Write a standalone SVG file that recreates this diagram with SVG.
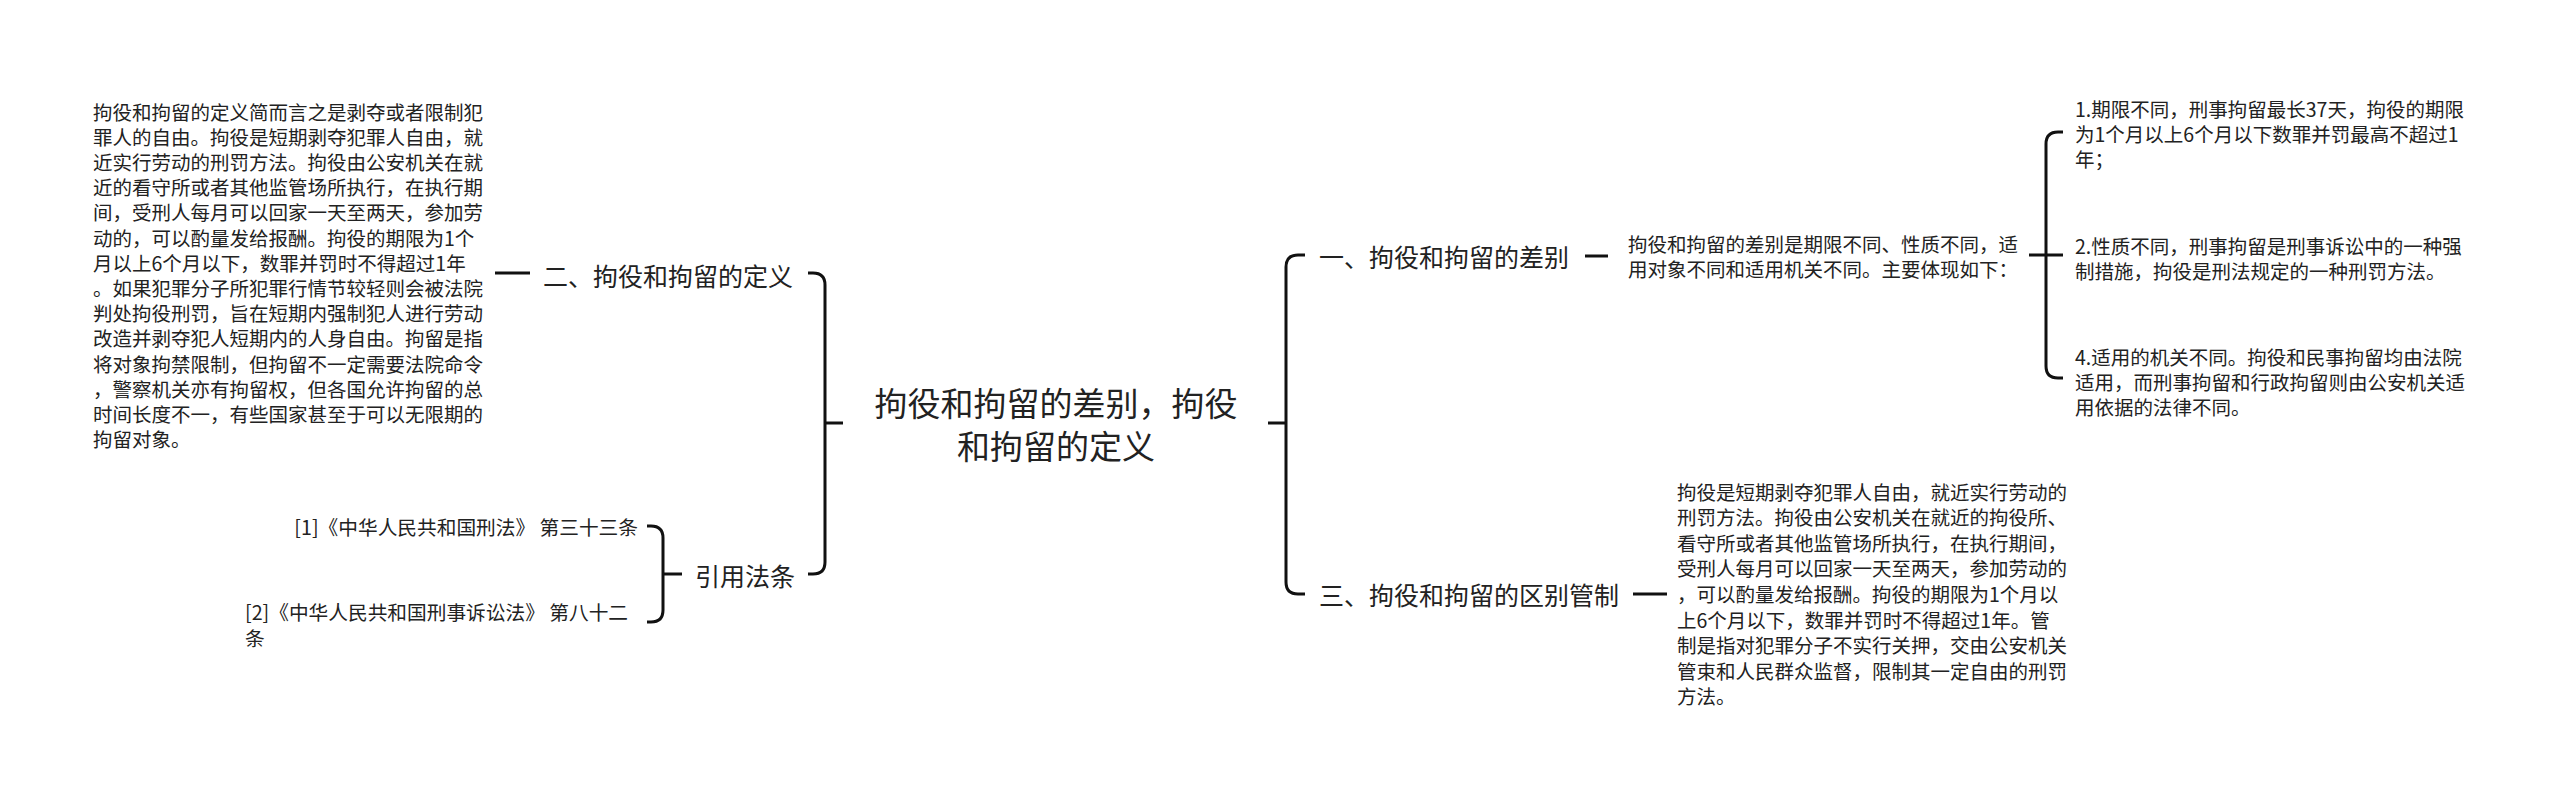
<svg xmlns="http://www.w3.org/2000/svg" width="2560" height="799" viewBox="0 0 2560 799">
<style>
text{font-family:"Noto Sans CJK SC","Noto Sans",sans-serif;fill:#222;dominant-baseline:central}
.t{font-size:19.5px}
.r{font-size:19.7px}
.m{font-size:25px}
.root{font-size:33px}
.c{fill:none;stroke:#111;stroke-width:3;stroke-linecap:butt}
</style>
<rect width="2560" height="799" fill="#fff"/>
<g id="connectors">
<path class="c" d="M825,423H843"/>
<path class="c" d="M808,273H813Q825,273 825,285V562Q825,574 813,574H808"/>
<path class="c" d="M495,273H530"/>
<path class="c" d="M647,526H651Q663,526 663,538V610Q663,622 651,622H647"/>
<path class="c" d="M663,574H682"/>
<path class="c" d="M1268,423H1286"/>
<path class="c" d="M1305,255H1298Q1286,255 1286,267V582Q1286,594 1298,594H1305"/>
<path class="c" d="M1585,256H1608"/>
<path class="c" d="M2029,255H2063"/>
<path class="c" d="M2063,132H2058Q2046,132 2046,144V366Q2046,378 2058,378H2063"/>
<path class="c" d="M1633,594H1667"/>
</g>
<g id="root">
<text class="root" x="1056" y="402" text-anchor="middle">拘役和拘留的差别，拘役</text>
<text class="root" x="1056" y="445" text-anchor="middle">和拘留的定义</text>
</g>
<g id="n-def">
<text class="m" x="543" y="275">二、拘役和拘留的定义</text>
</g>
<g id="n-def-text">
<text class="t" x="93" y="111">拘役和拘留的定义简而言之是剥夺或者限制犯</text>
<text class="t" x="93" y="136.2">罪人的自由。拘役是短期剥夺犯罪人自由，就</text>
<text class="t" x="93" y="161.4">近实行劳动的刑罚方法。拘役由公安机关在就</text>
<text class="t" x="93" y="186.6">近的看守所或者其他监管场所执行，在执行期</text>
<text class="t" x="93" y="211.8">间，受刑人每月可以回家一天至两天，参加劳</text>
<text class="t" x="93" y="237">动的，可以酌量发给报酬。拘役的期限为1个</text>
<text class="t" x="93" y="262.2">月以上6个月以下，数罪并罚时不得超过1年</text>
<text class="t" x="93" y="287.4">。如果犯罪分子所犯罪行情节较轻则会被法院</text>
<text class="t" x="93" y="312.6">判处拘役刑罚，旨在短期内强制犯人进行劳动</text>
<text class="t" x="93" y="337.8">改造并剥夺犯人短期内的人身自由。拘留是指</text>
<text class="t" x="93" y="363">将对象拘禁限制，但拘留不一定需要法院命令</text>
<text class="t" x="93" y="388.2">，警察机关亦有拘留权，但各国允许拘留的总</text>
<text class="t" x="93" y="413.4">时间长度不一，有些国家甚至于可以无限期的</text>
<text class="t" x="93" y="438.6">拘留对象。</text>
</g>
<g id="n-law">
<text class="m" x="695" y="575">引用法条</text>
</g>
<g id="n-law1">
<text class="r" x="638" y="526" text-anchor="end">[1]《中华人民共和国刑法》 第三十三条</text>
</g>
<g id="n-law2">
<text class="r" x="245" y="611">[2]《中华人民共和国刑事诉讼法》 第八十二</text>
<text class="r" x="245" y="637">条</text>
</g>
<g id="n-diff">
<text class="m" x="1319" y="256">一、拘役和拘留的差别</text>
</g>
<g id="n-diff-text">
<text class="t" x="1628" y="243">拘役和拘留的差别是期限不同、性质不同，适</text>
<text class="t" x="1628" y="268">用对象不同和适用机关不同。主要体现如下：</text>
</g>
<g id="n-item1">
<text class="t" x="2075" y="108">1.期限不同，刑事拘留最长37天，拘役的期限</text>
<text class="t" x="2075" y="133">为1个月以上6个月以下数罪并罚最高不超过1</text>
<text class="t" x="2075" y="158">年；</text>
</g>
<g id="n-item2">
<text class="t" x="2075" y="245">2.性质不同，刑事拘留是刑事诉讼中的一种强</text>
<text class="t" x="2075" y="270">制措施，拘役是刑法规定的一种刑罚方法。</text>
</g>
<g id="n-item4">
<text class="t" x="2075" y="356">4.适用的机关不同。拘役和民事拘留均由法院</text>
<text class="t" x="2075" y="381">适用，而刑事拘留和行政拘留则由公安机关适</text>
<text class="t" x="2075" y="406">用依据的法律不同。</text>
</g>
<g id="n-ctrl">
<text class="m" x="1319" y="594">三、拘役和拘留的区别管制</text>
</g>
<g id="n-ctrl-text">
<text class="t" x="1677" y="491">拘役是短期剥夺犯罪人自由，就近实行劳动的</text>
<text class="t" x="1677" y="516.6">刑罚方法。拘役由公安机关在就近的拘役所、</text>
<text class="t" x="1677" y="542.2">看守所或者其他监管场所执行，在执行期间，</text>
<text class="t" x="1677" y="567.8">受刑人每月可以回家一天至两天，参加劳动的</text>
<text class="t" x="1677" y="593.4">，可以酌量发给报酬。拘役的期限为1个月以</text>
<text class="t" x="1677" y="619">上6个月以下，数罪并罚时不得超过1年。管</text>
<text class="t" x="1677" y="644.6">制是指对犯罪分子不实行关押，交由公安机关</text>
<text class="t" x="1677" y="670.2">管束和人民群众监督，限制其一定自由的刑罚</text>
<text class="t" x="1677" y="695.8">方法。</text>
</g>
</svg>
